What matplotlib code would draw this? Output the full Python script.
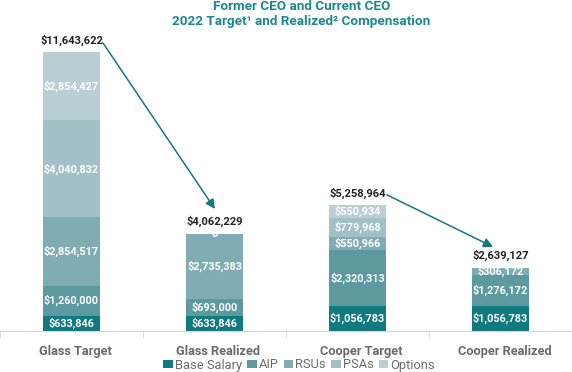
import matplotlib
matplotlib.use("Agg")
import matplotlib.pyplot as plt
import matplotlib.transforms as mtransforms
import numpy as np

plt.rcParams['font.family'] = ['Roboto', 'DejaVu Sans']

# donnees
categories = ["Glass Target", "Glass Realized", "Cooper Target", "Cooper Realized"]
composantes = ["Base Salary", "AIP", "RSUs", "PSAs", "Options"]
base_salary = [633846, 633846, 1056783, 1056783]
aip = [1260000, 693000, 2320313, 1276172]
rsus = [2854517, 2735383, 550966, 306172]
psas = [4040832, 0, 779968, 0]
options = [2854427, 0, 550934, 0]
couleurs = ["#0f7a80", "#5d9aa0", "#80adb3", "#a2c1c7", "#b9cfd4"]

series = [base_salary, aip, rsus, psas, options]
# quels segments ont un label
affiche = [
    [True, True, True, True],
    [True, True, True, True],
    [True, True, True, True],
    [True, True, True, False],
    [True, True, True, False],
]

fig = plt.figure(figsize=(5.72, 3.72), dpi=100)
ax = fig.add_axes([0, 41 / 372, 1, 331 / 372])

x = np.arange(len(categories))
bottom = np.zeros(len(categories))
for k, (nom, vals) in enumerate(zip(composantes, series)):
    vals = np.array(vals, dtype=float)
    ax.bar(x, vals, width=0.4, bottom=bottom, color=couleurs[k], label=nom, linewidth=0)
    for i in range(len(x)):
        if affiche[k][i]:
            ax.text(x[i], bottom[i] + vals[i] / 2, f"${vals[i]:,.0f}" if vals[i] > 0 else "0",
                    ha='center', va='center', color='white', fontsize=7.8, fontweight='bold')
    bottom += vals

totaux = bottom
for i in range(len(x)):
    ax.annotate(f"${totaux[i]:,.0f}", (x[i], totaux[i]), xytext=(0, 12),
                textcoords='offset pixels', ha='center', va='center',
                fontsize=8, fontweight='bold', color='#222222')

# fleches
fleche = dict(arrowstyle='-|>', color='#13797f', lw=1.1, mutation_scale=14, shrinkA=0, shrinkB=0)
ax.annotate("", xy=(1.003, 5.09e6), xytext=(0.22, 12.02e6), arrowprops=fleche)
ax.annotate("", xy=(2.948, 3.51e6), xytext=(2.206, 5.68e6), arrowprops=fleche)

ax.set_xlim(-0.5, 3.5)
ax.set_ylim(0, 13.81e6)
for s in ['top', 'right', 'left']:
    ax.spines[s].set_visible(False)
ax.spines['bottom'].set_color('#d5d5d5')
ax.set_yticks([])
ax.set_xticks(x)
ax.set_xticklabels(categories, fontsize=9.2, fontweight='bold', color='#6b6b6b')
ax.tick_params(axis='x', which='major', length=0, pad=10)
decal = mtransforms.ScaledTranslation(4 / 100, 0, fig.dpi_scale_trans)
for lab in ax.get_xticklabels():
    lab.set_transform(lab.get_transform() + decal)
ax.set_xticks([-0.5, 0.5, 1.5, 2.5, 3.5], minor=True)
ax.tick_params(axis='x', which='minor', length=5, color='#d5d5d5')

fig.text(0.527, 1 - 6 / 372, "Former CEO and Current CEO", ha='center', va='center',
         fontsize=9.7, fontweight='bold', color='#1a8a8f')
fig.text(0.527, 1 - 21 / 372, "2022 Target¹ and Realized² Compensation", ha='center', va='center',
         fontsize=9.7, fontweight='bold', color='#1a8a8f')

fig.legend(loc='center', bbox_to_anchor=(299 / 572, 1 - 365 / 372), ncol=5, frameon=False,
           fontsize=9.3, handlelength=0.75, handleheight=0.6, handletextpad=0.15,
           columnspacing=0.4, labelcolor='#6b6b6b', borderpad=0)

fig.savefig("out.png", dpi=100)
